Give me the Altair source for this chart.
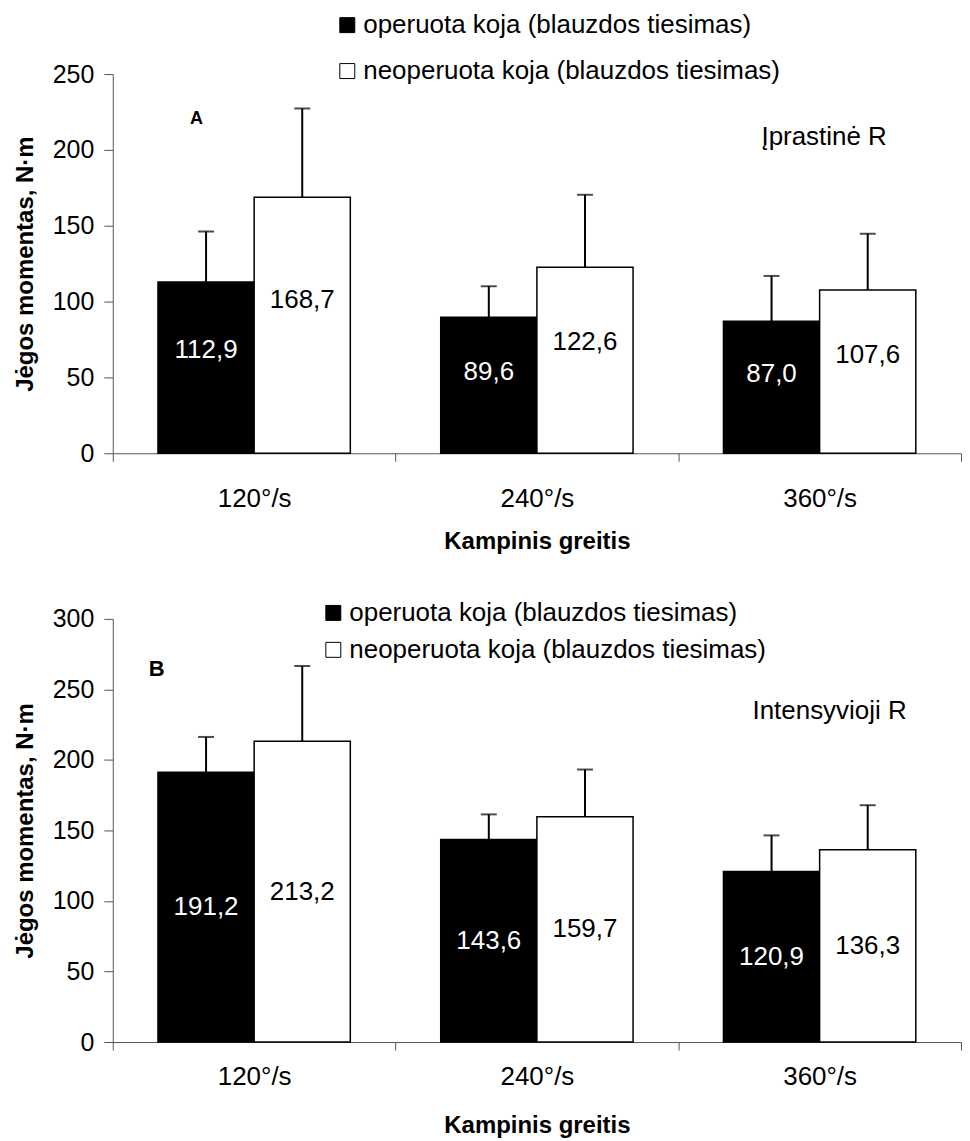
import altair as alt
import pandas as pd

FONT = "Liberation Sans"

speeds = ["120°/s", "240°/s", "360°/s"]
series_names = ["operuota koja (blauzdos tiesimas)", "neoperuota koja (blauzdos tiesimas)"]

# Panel A (Įprastinė R)
a_oper = [112.9, 89.6, 87.0]
a_oper_sd = [33.3, 20.5, 29.9]
a_neo = [168.7, 122.6, 107.6]
a_neo_sd = [58.6, 47.8, 37.1]

# Panel B (Intensyvioji R)
b_oper = [191.2, 143.6, 120.9]
b_oper_sd = [25.1, 17.8, 25.6]
b_neo = [213.2, 159.7, 136.3]
b_neo_sd = [53.4, 33.5, 31.6]

y_title = "Jėgos momentas, N·m"
x_title = "Kampinis greitis"


def make_df(oper, oper_sd, neo, neo_sd):
    rows = []
    for i, s in enumerate(speeds):
        rows.append(dict(speed=s, series=series_names[0], value=oper[i], sd=oper_sd[i]))
        rows.append(dict(speed=s, series=series_names[1], value=neo[i], sd=neo_sd[i]))
    df = pd.DataFrame(rows)
    df["label"] = df["value"].map(lambda v: f"{v:.1f}".replace(".", ","))
    return df


def panel(df, ymax, label_frac, tag, tag_xy, tag_size, note, note_xy,
          legend_x, legend_y, row_pad, width, height, lab_pad, title_pad):
    base = alt.Chart(df)
    x_axis = alt.Axis(title=x_title, titleFontSize=24, titleFontWeight="bold",
                      titleFont=FONT, labelFont=FONT, labelFontSize=26, labelAngle=0,
                      labelPadding=lab_pad, tickSize=8, tickBand="extent",
                      titlePadding=title_pad,
                      domainColor="#555", tickColor="#555", labelColor="black",
                      titleColor="black")
    x = alt.X("speed:N", sort=speeds,
              scale=alt.Scale(paddingInner=0, paddingOuter=0), axis=x_axis)
    xo = alt.XOffset("series:N", sort=series_names,
                     scale=alt.Scale(paddingInner=0, paddingOuter=0.47))
    y_axis = alt.Axis(title=y_title, titleFontSize=24, titleFontWeight="bold",
                      titleFont=FONT, labelFont=FONT, labelFontSize=25,
                      values=list(range(0, ymax + 1, 50)), tickSize=9, labelPadding=10,
                      titlePadding=15, grid=False, domainColor="#555", tickColor="#555",
                      labelColor="black", titleColor="black")
    yscale = alt.Scale(domain=[0, ymax], nice=False)

    bars = base.mark_bar(stroke="black", strokeWidth=1.5).encode(
        x=x, xOffset=xo,
        y=alt.Y("value:Q", scale=yscale, axis=y_axis),
        color=alt.Color("series:N", sort=series_names,
                        scale=alt.Scale(domain=series_names, range=["black", "white"]),
                        legend=alt.Legend(title=None, orient="none", legendX=legend_x,
                                          legendY=legend_y, direction="vertical",
                                          symbolType="square", symbolSize=225,
                                          symbolStrokeColor="black", symbolStrokeWidth=1,
                                          labelFontSize=26, labelFont=FONT,
                                          labelColor="black", rowPadding=row_pad,
                                          labelOffset=3, labelLimit=0)),
    )
    err = base.transform_calculate(top="datum.value + datum.sd").mark_rule(
        color="black", strokeWidth=2).encode(
        x=x, xOffset=xo,
        y=alt.Y("value:Q", scale=yscale, axis=y_axis),
        y2="top:Q",
    )
    caps = base.transform_calculate(top="datum.value + datum.sd").mark_tick(
        color="black", size=16, thickness=2, orient="horizontal").encode(
        x=x, xOffset=xo,
        y=alt.Y("top:Q", scale=yscale, axis=y_axis),
    )
    labels = base.transform_calculate(ly=f"datum.value * {label_frac}").mark_text(
        fontSize=26, font=FONT).encode(
        x=x, xOffset=xo,
        y=alt.Y("ly:Q", scale=yscale, axis=y_axis),
        text="label:N",
        color=alt.condition(alt.datum.series == series_names[0],
                            alt.value("white"), alt.value("black")),
    )
    tag_mark = alt.Chart(pd.DataFrame({"t": [tag]})).mark_text(
        font=FONT, fontSize=tag_size, fontWeight="bold", color="black",
        align="center", baseline="middle").encode(
        x=alt.value(tag_xy[0]), y=alt.value(tag_xy[1]), text="t:N")
    note_mark = alt.Chart(pd.DataFrame({"t": [note]})).mark_text(
        font=FONT, fontSize=26, color="black", align="left", baseline="middle").encode(
        x=alt.value(note_xy[0]), y=alt.value(note_xy[1]), text="t:N")

    return alt.layer(bars, err, caps, labels, tag_mark, note_mark).properties(
        width=width, height=height)


df_a = make_df(a_oper, a_oper_sd, a_neo, a_neo_sd)
df_b = make_df(b_oper, b_oper_sd, b_neo, b_neo_sd)

W = 850
chart_a = panel(df_a, 250, 0.6, "A", (84, 45), 18, "Įprastinė R", (650, 63),
                222, -62, 20, W, 380, 24, 18)
chart_b = panel(df_b, 300, 0.5, "B", (44, 50), 22, "Intensyvioji R", (641, 92),
                208, -19, 11, W, 424, 14, 24)

chart = alt.vconcat(chart_a, chart_b, spacing=47).resolve_scale(
    color="independent").configure_view(stroke=None).properties(
    padding={"left": 5, "top": 3, "right": 0, "bottom": 0})

chart.save("out.html", embed_options={"renderer": "svg", "actions": False})
